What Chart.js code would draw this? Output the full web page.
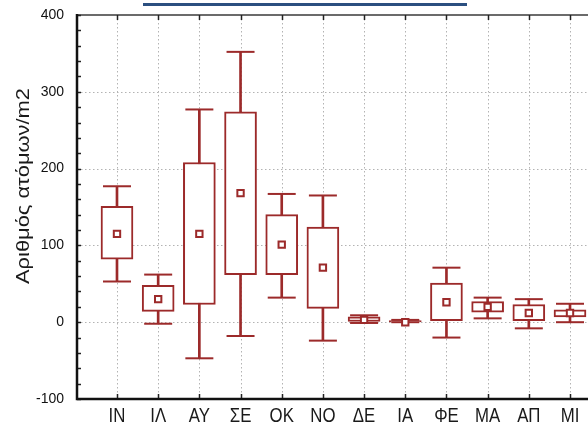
<!DOCTYPE html>
<html>
<head>
<meta charset="utf-8">
<script src="https://cdn.jsdelivr.net/npm/chart.js@4"></script>
<style>
  html, body { margin: 0; padding: 0; background: #fff; }
  #wrap { position: relative; width: 588px; height: 425px; overflow: hidden; }
  #uline { position: absolute; left: 143px; top: 3px; width: 324px; height: 2.5px; background: #2b4f80; }
  canvas { position: absolute; left: 0; top: 0; }
</style>
</head>
<body>
<div id="wrap">
  <canvas id="c" width="588" height="425"></canvas>
  <div id="uline"></div>
</div>
<script>
// ---- data ----
const categories  = ['ΙΝ','ΙΛ','ΑΥ','ΣΕ','ΟΚ','ΝΟ','ΔΕ','ΙΑ','ΦΕ','ΜΑ','ΑΠ','ΜΙ'];
const whiskerLow  = [53, -2, -47, -18, 32, -24, -1, 0, -20, 5, -8, 0];
const boxLow      = [82, 14, 23, 62, 62, 18, 1, 0.5, 2, 13, 2, 7];
const boxHigh     = [151, 48, 208, 274, 140, 124, 7, 2, 51, 27, 23, 16];
const whiskerHigh = [177, 62, 277, 352, 167, 165, 9, 3, 71, 32, 30, 24];
const means       = [115, 30, 115, 168, 101, 71, 3, 0, 26, 20, 12, 12];
const yTicks      = [-100, 0, 100, 200, 300, 400];
const yTitle      = 'Αριθμός ατόμων/m2';

const RED = '#9c2a2a';

const boxData = categories.map((c, i) => ({x: i, y: [boxLow[i], boxHigh[i]]}));
const whiskerData = categories.map((c, i) => ({x: i, y: [whiskerLow[i], whiskerHigh[i]]}));
const capData = categories.map((c, i) => ({x: i, y: whiskerHigh[i]}))
  .concat(categories.map((c, i) => ({x: i, y: whiskerLow[i]})));
const meanData = categories.map((c, i) => ({x: i, y: means[i]}));

const decor = {
  id: 'decor',
  beforeDatasetsDraw(chart) {
    const {ctx, chartArea: a, scales: {x, y}} = chart;
    ctx.save();
    ctx.strokeStyle = '#b3b3b3';
    ctx.lineWidth = 1;
    ctx.setLineDash([1.5, 2.5]);
    categories.forEach((c, i) => {
      const px = Math.round(x.getPixelForValue(i)) + 0.5;
      ctx.beginPath(); ctx.moveTo(px, a.top); ctx.lineTo(px, a.bottom); ctx.stroke();
    });
    yTicks.forEach(v => {
      if (v === y.min || v === y.max) return;
      const py = Math.round(y.getPixelForValue(v)) + 0.5;
      ctx.beginPath(); ctx.moveTo(a.left, py); ctx.lineTo(a.right, py); ctx.stroke();
    });
    ctx.restore();
  },
  afterDatasetsDraw(chart) {
    const {ctx, chartArea: a, scales: {x, y}} = chart;
    ctx.save();
    // top border
    ctx.strokeStyle = '#3a3a3a';
    ctx.lineWidth = 1.5;
    ctx.beginPath(); ctx.moveTo(a.left, a.top); ctx.lineTo(a.right, a.top); ctx.stroke();
    // category ticks top and bottom
    ctx.strokeStyle = '#222';
    ctx.lineWidth = 1.5;
    categories.forEach((c, i) => {
      const px = Math.round(x.getPixelForValue(i)) + 0.5;
      ctx.beginPath(); ctx.moveTo(px, a.top); ctx.lineTo(px, a.top + 5); ctx.stroke();
      ctx.beginPath(); ctx.moveTo(px, a.bottom); ctx.lineTo(px, a.bottom - 5); ctx.stroke();
    });
    // minor ticks on the left axis
    for (let v = y.min; v <= y.max; v += 20) {
      const py = Math.round(y.getPixelForValue(v)) + 0.5;
      ctx.beginPath(); ctx.moveTo(a.left, py); ctx.lineTo(a.left + 4, py); ctx.stroke();
    }
    // axis lines
    ctx.strokeStyle = '#111';
    ctx.lineWidth = 2.5;
    ctx.beginPath(); ctx.moveTo(a.left, a.top - 1); ctx.lineTo(a.left, a.bottom); ctx.lineTo(a.right, a.bottom); ctx.stroke();
    // category labels
    ctx.fillStyle = '#1a1a1a';
    ctx.font = '21px "Liberation Sans", Arial, sans-serif';
    ctx.textAlign = 'center';
    ctx.textBaseline = 'alphabetic';
    categories.forEach((c, i) => {
      ctx.save();
      ctx.translate(x.getPixelForValue(i), 421.5);
      ctx.scale(0.8, 1);
      ctx.fillText(c, 0, 0);
      ctx.restore();
    });
    // y axis title
    ctx.save();
    ctx.translate(29, 186);
    ctx.rotate(-Math.PI / 2);
    ctx.font = '19px "Liberation Sans", Arial, sans-serif';
    const w = ctx.measureText(yTitle).width;
    ctx.scale(196 / w, 1);
    ctx.fillText(yTitle, 0, 0);
    ctx.restore();
    ctx.restore();
  }
};

new Chart(document.getElementById('c'), {
  type: 'bar',
  data: {
    datasets: [
      {
        type: 'scatter', label: 'mean', data: meanData, order: 0,
        pointStyle: 'rect', pointRadius: 4.5, borderWidth: 2,
        borderColor: RED, backgroundColor: '#fff', xAxisID: 'x', yAxisID: 'y'
      },
      {
        type: 'scatter', label: 'caps', data: capData, order: 1,
        pointStyle: 'line', pointRadius: 14, borderWidth: 2,
        borderColor: RED, backgroundColor: RED, xAxisID: 'x', yAxisID: 'y'
      },
      {
        type: 'bar', label: 'box', data: boxData, order: 2, grouped: false,
        barThickness: 32, borderWidth: 2, borderSkipped: false,
        borderColor: RED, backgroundColor: '#fff', xAxisID: 'x', yAxisID: 'y'
      },
      {
        type: 'bar', label: 'whisker', data: whiskerData, order: 3, grouped: false,
        barThickness: 2, borderWidth: 0,
        backgroundColor: RED, xAxisID: 'x', yAxisID: 'y'
      }
    ]
  },
  options: {
    responsive: false,
    animation: false,
    layout: { autoPadding: false, padding: { top: 15, left: 0, right: 0, bottom: 0 } },
    plugins: { legend: { display: false }, tooltip: { enabled: false } },
    scales: {
      x: {
        type: 'linear', offset: false, min: -0.971, max: 11.437,
        grid: { display: false }, border: { display: false },
        ticks: { display: false },
        afterFit(s) { s.height = 26; s.paddingLeft = 0; s.paddingRight = 0; }
      },
      y: {
        type: 'linear', min: -100, max: 400,
        grid: { display: false, drawTicks: false }, border: { display: false },
        ticks: {
          stepSize: 100, padding: 13, color: '#111',
          font: { family: '"Liberation Sans", Arial, sans-serif', size: 14 }
        },
        afterFit(s) { s.width = 77; s.paddingTop = 0; s.paddingBottom = 0; }
      }
    }
  },
  plugins: [decor]
});
</script>
</body>
</html>
